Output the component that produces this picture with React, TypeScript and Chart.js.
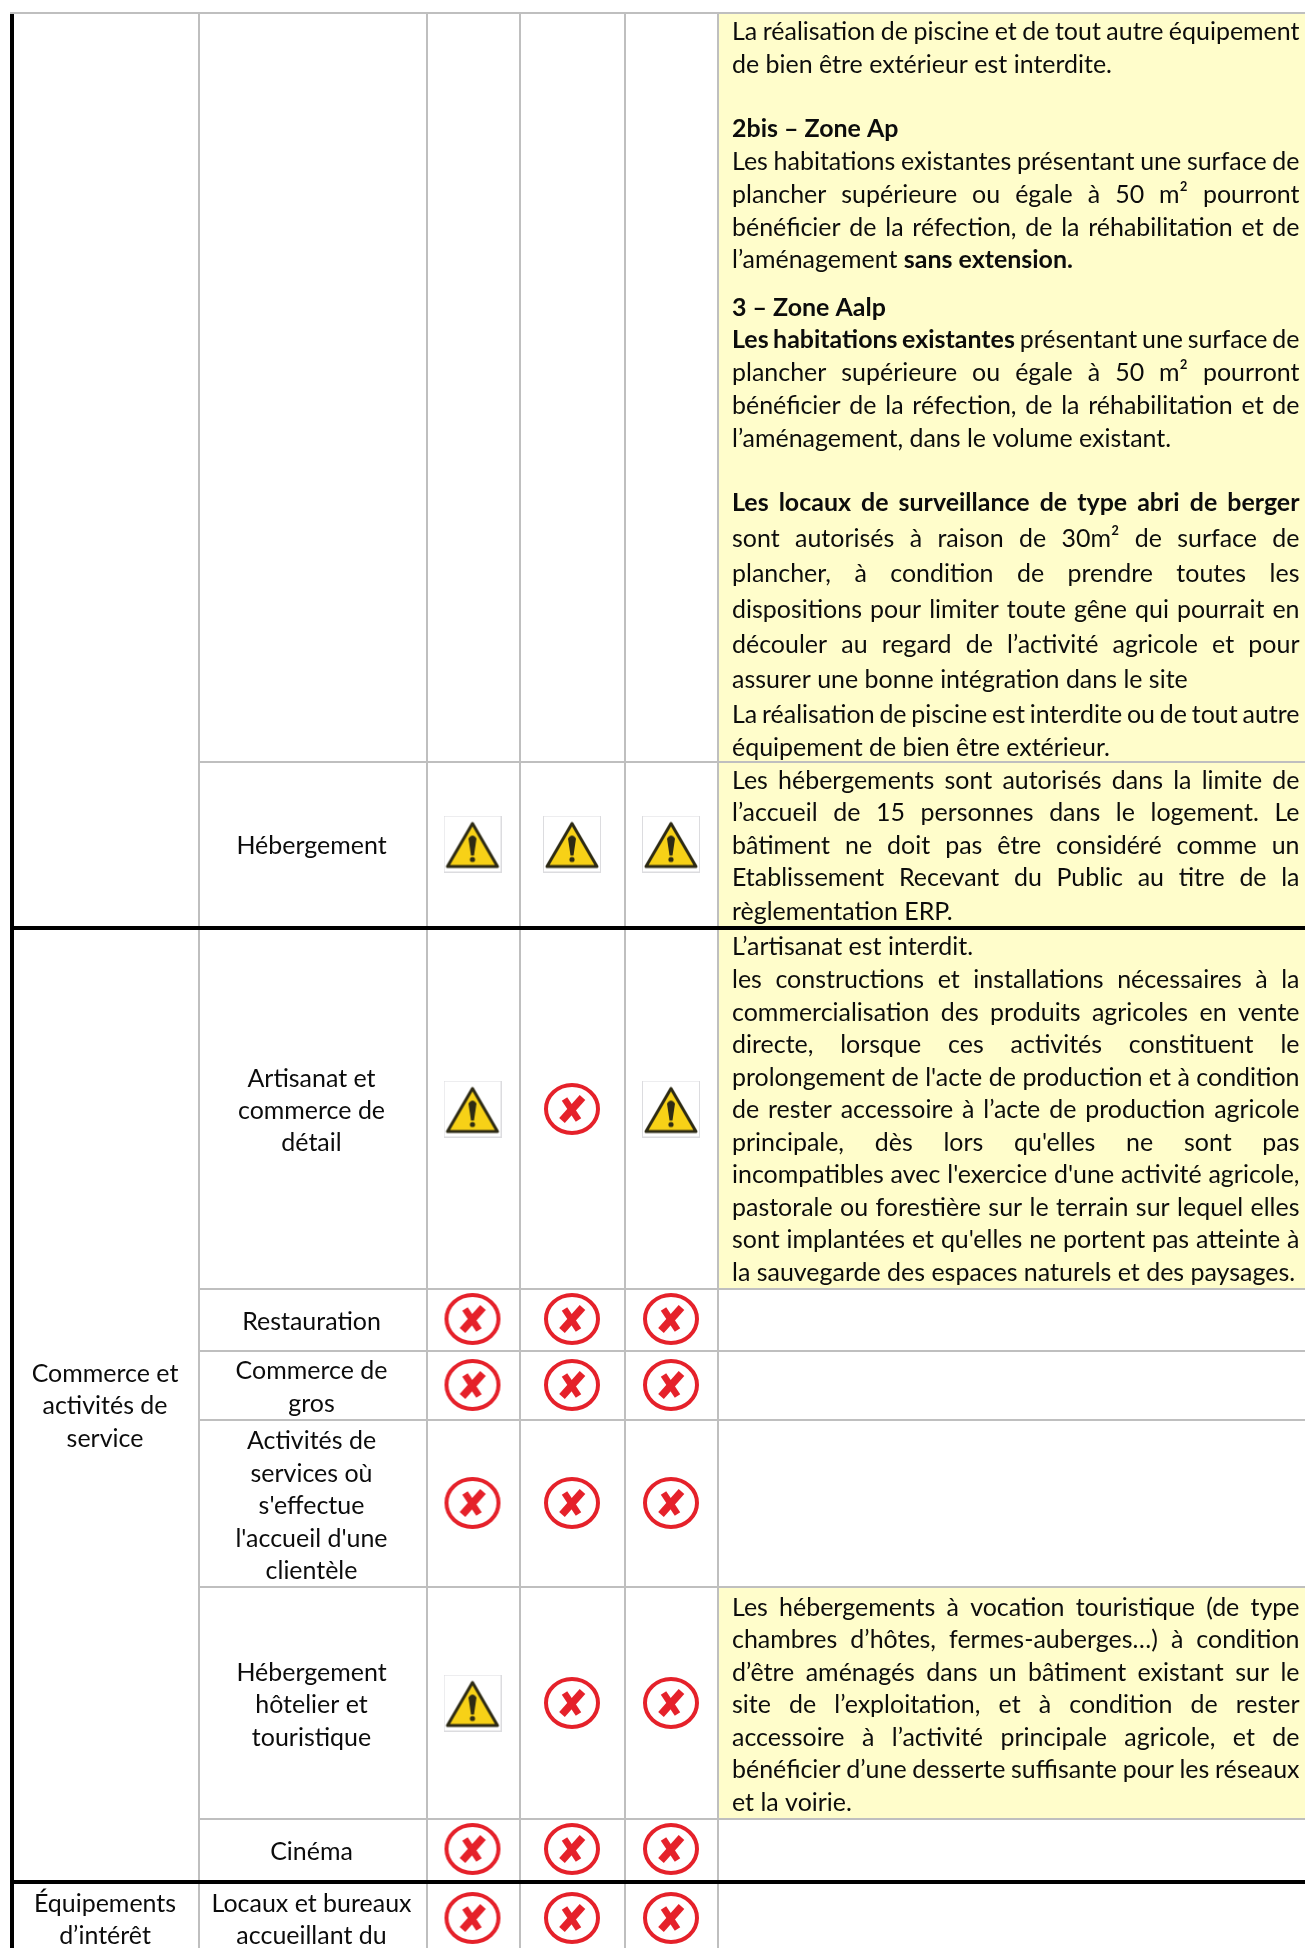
import React, { useEffect, useRef } from "react";
import { Chart, registerables } from "chart.js";

Chart.register(...registerables);

const PAGE_W = 1305;
const PAGE_H = 1948;

// Table structure
const greyVerticalX = [199, 427, 520, 625, 718];
const greyTopY = 13;
const greyRowsFromCol2 = [762, 1289, 1351, 1420, 1587, 1819];
const blackLeftX = 12;
const blackRowsY = [928, 1882];

// Yellow cells [top, bottom]
const yellowCells = [
  [14, 761],
  [763, 926],
  [930, 1288],
  [1588, 1818],
];
const yellowLeft = 719;

// Icons [y of row, col1, col2, col3]: w = warning, x = forbidden
const columnCentres = [472.5, 572, 671];
const iconRows: [number, string][] = [
  [844, "www"],
  [1109, "wxw"],
  [1319, "xxx"],
  [1385, "xxx"],
  [1503, "xxx"],
  [1703, "wxx"],
  [1849, "xxx"],
  [1918, "xxx"],
];

// Centred labels [baseline y, text]
const col1Labels: [number, string][] = [
  [1382, "Commerce et"],
  [1414, "activités de"],
  [1447, "service"],
  [1912, "Équipements"],
  [1944, "d’intérêt"],
];
const col2Labels: [number, string][] = [
  [854, "Hébergement"],
  [1087, "Artisanat et"],
  [1119, "commerce de"],
  [1151, "détail"],
  [1330, "Restauration"],
  [1379, "Commerce de"],
  [1412, "gros"],
  [1449, "Activités de"],
  [1482, "services où"],
  [1514, "s'effectue"],
  [1547, "l'accueil d'une"],
  [1579, "clientèle"],
  [1681, "Hébergement"],
  [1713, "hôtelier et"],
  [1746, "touristique"],
  [1860, "Cinéma"],
  [1912, "Locaux et bureaux"],
  [1944, "accueillant du"],
];

// Note lines [baseline, justified, text]; **...** marks bold
const noteLines: [number, boolean, string][] = [
  [40, true, "La réalisation de piscine et de tout autre équipement"],
  [73, false, "de bien être extérieur est interdite."],
  [137, false, "**2bis – Zone Ap**"],
  [170, true, "Les habitations existantes présentant une surface de"],
  [203, true, "plancher supérieure ou égale à 50 m² pourront"],
  [236, true, "bénéficier de la réfection, de la réhabilitation et de"],
  [268, false, "l’aménagement **sans extension.**"],
  [316, false, "**3 – Zone Aalp**"],
  [348, true, "**Les habitations existantes** présentant une surface de"],
  [381, true, "plancher supérieure ou égale à 50 m² pourront"],
  [414, true, "bénéficier de la réfection, de la réhabilitation et de"],
  [447, false, "l’aménagement, dans le volume existant."],
  [511, true, "**Les locaux de surveillance de type abri de berger**"],
  [547, true, "sont autorisés à raison de 30m² de surface de"],
  [582, true, "plancher, à condition de prendre toutes les"],
  [618, true, "dispositions pour limiter toute gêne qui pourrait en"],
  [653, true, "découler au regard de l’activité agricole et pour"],
  [688, false, "assurer une bonne intégration dans le site"],
  [723, true, "La réalisation de piscine est interdite ou de tout autre"],
  [756, false, "équipement de bien être extérieur."],
  [789, true, "Les hébergements sont autorisés dans la limite de"],
  [821, true, "l’accueil de 15 personnes dans le logement. Le"],
  [854, true, "bâtiment ne doit pas être considéré comme un"],
  [886, true, "Etablissement Recevant du Public au titre de la"],
  [920, false, "règlementation ERP."],
  [955, false, "L’artisanat est interdit."],
  [988, true, "les constructions et installations nécessaires à la"],
  [1021, true, "commercialisation des produits agricoles en vente"],
  [1053, true, "directe, lorsque ces activités constituent le"],
  [1086, true, "prolongement de l'acte de production et à condition"],
  [1118, true, "de rester accessoire à l’acte de production agricole"],
  [1151, true, "principale, dès lors qu'elles ne sont pas"],
  [1183, true, "incompatibles avec l'exercice d'une activité agricole,"],
  [1216, true, "pastorale ou forestière sur le terrain sur lequel elles"],
  [1248, true, "sont implantées et qu'elles ne portent pas atteinte à"],
  [1281, false, "la sauvegarde des espaces naturels et des paysages."],
  [1616, true, "Les hébergements à vocation touristique (de type"],
  [1648, true, "chambres d’hôtes, fermes-auberges…) à condition"],
  [1681, true, "d’être aménagés dans un bâtiment existant sur le"],
  [1713, true, "site de l’exploitation, et à condition de rester"],
  [1746, true, "accessoire à l’activité principale agricole, et de"],
  [1778, true, "bénéficier d’une desserte suffisante pour les réseaux"],
  [1811, false, "et la voirie."],
];

const NOTE_LEFT = 732;
const NOTE_RIGHT = 1299.5;
const FONT_FAMILY = "Lato, 'Open Sans', sans-serif";
const FONT_SIZE = 25.5;
const TEXT_COLOR = "#0c0c0c";

function warningIcon(): HTMLCanvasElement {
  const c = document.createElement("canvas");
  c.width = 58;
  c.height = 57;
  const g = c.getContext("2d")!;
  g.fillStyle = "#ffffff";
  g.fillRect(0, 0, 58, 57);
  g.strokeStyle = "#dcdcdf";
  g.lineWidth = 1;
  g.strokeRect(0.5, 0.5, 57, 56);
  g.beginPath();
  g.moveTo(29, 8);
  g.lineTo(54, 51);
  g.lineTo(4, 51);
  g.closePath();
  g.fillStyle = "#f7d117";
  g.fill();
  g.lineJoin = "round";
  g.lineWidth = 3;
  g.strokeStyle = "#2d2a14";
  g.stroke();
  g.fillStyle = "#2d2a14";
  g.beginPath();
  g.moveTo(25, 23);
  g.quadraticCurveTo(29, 17, 33, 23);
  g.lineTo(30.5, 40);
  g.lineTo(27.5, 40);
  g.closePath();
  g.fill();
  g.beginPath();
  g.arc(29, 44, 2.6, 0, Math.PI * 2);
  g.fill();
  return c;
}

function forbiddenIcon(): HTMLCanvasElement {
  const c = document.createElement("canvas");
  c.width = 58;
  c.height = 54;
  const g = c.getContext("2d")!;
  g.strokeStyle = "#e5212a";
  g.lineWidth = 4;
  g.beginPath();
  g.ellipse(29, 27, 26, 24, 0, 0, Math.PI * 2);
  g.stroke();
  g.lineCap = "butt";
  g.lineWidth = 7.5;
  g.beginPath();
  g.moveTo(39.5, 15.5);
  g.lineTo(19, 38.5);
  g.stroke();
  g.lineWidth = 6.5;
  g.beginPath();
  g.moveTo(21.5, 17);
  g.lineTo(35.5, 38);
  g.stroke();
  return c;
}

function gapped(segments: [number, number, number, number][]) {
  const pts: any[] = [];
  segments.forEach(([x0, y0, x1, y1]) => {
    pts.push({ x: x0, y: y0 }, { x: x1, y: y1 }, { x: x1, y: NaN });
  });
  return pts;
}

function drawRuns(ctx: CanvasRenderingContext2D, line: string, justified: boolean, y: number, scaleK: number) {
  const runs = line
    .split("**")
    .map((t, i) => ({ t, bold: i % 2 === 1 }))
    .filter((r) => r.t.length > 0);
  const fontOf = (b: boolean) => `${b ? "700 " : ""}${FONT_SIZE}px ${FONT_FAMILY}`;
  let natural = 0;
  let spaces = 0;
  (ctx as any).wordSpacing = "0px";
  runs.forEach((r) => {
    ctx.font = fontOf(r.bold);
    natural += ctx.measureText(r.t).width;
    spaces += (r.t.match(/ /g) || []).length;
  });
  const target = (NOTE_RIGHT - NOTE_LEFT) / scaleK;
  const extra = justified && spaces > 0 ? (target - natural) / spaces : 0;
  ctx.save();
  ctx.translate(NOTE_LEFT, y);
  ctx.scale(scaleK, 1);
  let x = 0;
  runs.forEach((r) => {
    ctx.font = fontOf(r.bold);
    const spaceW = ctx.measureText(" ").width + extra;
    const words = r.t.split(" ");
    words.forEach((word, i) => {
      if (word.length > 0) {
        ctx.fillText(word, x, 0);
        x += ctx.measureText(word).width;
      }
      if (i < words.length - 1) x += spaceW;
    });
  });
  ctx.restore();
}

const textPlugin = {
  id: "tableText",
  afterDatasetsDraw(chart: any) {
    const { ctx, scales } = chart;
    const sx = scales.x;
    const sy = scales.y;
    ctx.save();
    ctx.fillStyle = TEXT_COLOR;
    ctx.textBaseline = "alphabetic";
    ctx.textAlign = "left";
    ctx.font = `${FONT_SIZE}px ${FONT_FAMILY}`;
    const ref = "de bien être extérieur est interdite.";
    const k = (1112 - NOTE_LEFT) / ctx.measureText(ref).width;
    const drawCentred = (cx: number, y: number, t: string) => {
      ctx.font = `${FONT_SIZE}px ${FONT_FAMILY}`;
      const w = ctx.measureText(t).width * k;
      ctx.save();
      ctx.translate(sx.getPixelForValue(cx) - w / 2, sy.getPixelForValue(y));
      ctx.scale(k, 1);
      ctx.fillText(t, 0, 0);
      ctx.restore();
    };
    col1Labels.forEach(([y, t]) => drawCentred(105, y, t));
    col2Labels.forEach(([y, t]) => drawCentred(311.5, y, t));
    noteLines.forEach(([y, j, t]) => drawRuns(ctx, t, j, sy.getPixelForValue(y), k));
    ctx.restore();
  },
};

export default function App() {
  const ref = useRef<HTMLCanvasElement>(null);
  useEffect(() => {
    document.body.style.margin = "0";
    const warn = warningIcon();
    const forb = forbiddenIcon();
    const iconPts: any[] = [];
    const iconStyles: any[] = [];
    iconRows.forEach(([y, kinds]) => {
      kinds.split("").forEach((k, i) => {
        iconPts.push({ x: columnCentres[i], y });
        iconStyles.push(k === "w" ? warn : forb);
      });
    });
    const greySegs: [number, number, number, number][] = [
      ...greyVerticalX.map((x) => [x, greyTopY, x, PAGE_H] as [number, number, number, number]),
      [10, greyTopY, PAGE_W, greyTopY],
      ...greyRowsFromCol2.map((y) => [199, y, PAGE_W, y] as [number, number, number, number]),
    ];
    const blackSegs: [number, number, number, number][] = [
      [blackLeftX, 14, blackLeftX, PAGE_H],
      ...blackRowsY.map((y) => [blackLeftX, y, PAGE_W, y] as [number, number, number, number]),
    ];
    const datasets: any[] = [
      ...yellowCells.map(([top, bottom]) => ({
        type: "line",
        data: [
          { x: yellowLeft, y: top },
          { x: PAGE_W, y: top },
        ],
        borderWidth: 0,
        pointRadius: 0,
        backgroundColor: "#fffdcb",
        fill: { value: bottom },
        order: 5,
      })),
      {
        type: "line",
        data: gapped(greySegs),
        borderColor: "#bfbfbf",
        borderWidth: 2,
        pointRadius: 0,
        spanGaps: false,
        fill: false,
        order: 4,
      },
      {
        type: "line",
        data: gapped(blackSegs),
        borderColor: "#000000",
        borderWidth: 4,
        pointRadius: 0,
        spanGaps: false,
        fill: false,
        order: 3,
      },
      {
        type: "scatter",
        data: iconPts,
        pointStyle: iconStyles,
        pointRadius: 20,
        order: 2,
      },
    ];
    const chart = new Chart(ref.current!, {
      type: "scatter",
      data: { datasets },
      options: {
        animation: false,
        responsive: false,
        layout: { padding: 0, autoPadding: false },
        events: [],
        plugins: { legend: { display: false }, tooltip: { enabled: false } },
        scales: {
          x: { type: "linear", display: false, min: 0, max: PAGE_W },
          y: { type: "linear", display: false, min: 0, max: PAGE_H, reverse: true },
        },
      },
      plugins: [textPlugin],
    } as any);
    return () => chart.destroy();
  }, []);
  return (
    <div style={{ position: "absolute", left: 0, top: 0, width: PAGE_W, height: PAGE_H, background: "#fff" }}>
      <canvas ref={ref} width={PAGE_W} height={PAGE_H} style={{ display: "block" }} />
    </div>
  );
}
